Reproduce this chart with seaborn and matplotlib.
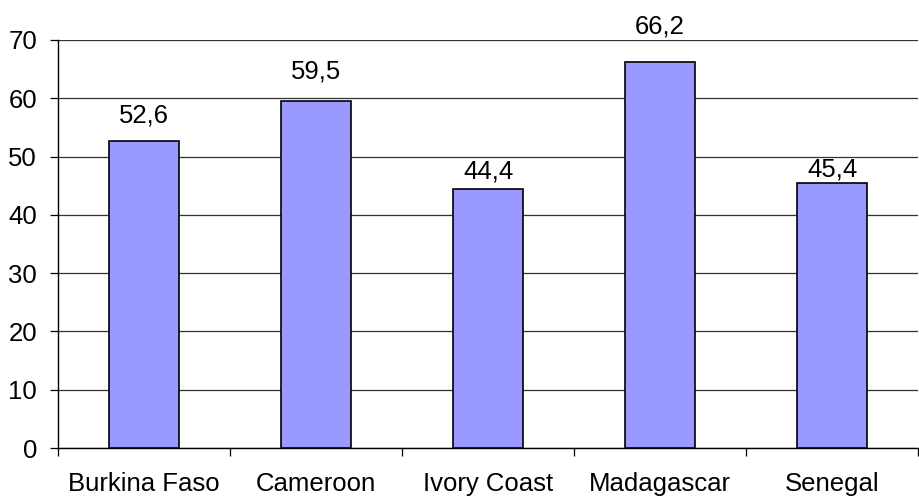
import numpy as np
import pandas as pd
import matplotlib
matplotlib.use('Agg')
import matplotlib.pyplot as plt
import seaborn as sns

countries = ['Burkina Faso', 'Cameroon', 'Ivory Coast', 'Madagascar', 'Senegal']
values = [52.6, 59.5, 44.4, 66.2, 45.4]
y_ticks = [0, 10, 20, 30, 40, 50, 60, 70]

# gap (in points) between bar top and centre of its value label, as in the original
label_gap = [20.5, 23.5, 14.5, 27.5, 11.5]

df = pd.DataFrame({'country': countries, 'value': values})

sns.set_theme(style='white')
plt.rcParams['font.family'] = ['Liberation Sans', 'DejaVu Sans']

fig = plt.figure(figsize=(9.19, 4.98), dpi=100)
ax = fig.add_axes([0.0631, 0.1004, 0.9359, 0.8193])

sns.barplot(data=df, x='country', y='value', color='#9999FF', saturation=1,
            width=0.41, edgecolor='black', linewidth=1.2, ax=ax, zorder=3)

ax.set_ylim(0, 70)
ax.set_xlim(-0.5, len(countries) - 0.5)
ax.set_yticks(y_ticks)
ax.yaxis.grid(True, color='#333333', linewidth=0.9, zorder=0)
ax.set_axisbelow(True)
ax.set_xlabel('')
ax.set_ylabel('')

fs = 18.5

# ticks between categories, labels at centres
ax.set_xticks(np.arange(len(countries) + 1) - 0.5, minor=True)
ax.tick_params(axis='x', which='major', length=0, pad=17.5, labelsize=fs, colors='black')
ax.tick_params(axis='x', which='minor', length=6, width=0.9, color='black', bottom=True)
ax.tick_params(axis='y', length=6, width=0.9, color='black', left=True, pad=9,
               labelsize=fs, labelcolor='black')

for s in ['top', 'right']:
    ax.spines[s].set_visible(False)
for s in ['left', 'bottom']:
    ax.spines[s].set_color('black')
    ax.spines[s].set_linewidth(1.0)

for i, v in enumerate(values):
    ax.annotate(f'{v:.1f}'.replace('.', ','), (i, v), xytext=(0, label_gap[i]),
                textcoords='offset points', ha='center', va='center_baseline',
                fontsize=fs, color='black', annotation_clip=False)

fig.savefig('out.png', dpi=100)
